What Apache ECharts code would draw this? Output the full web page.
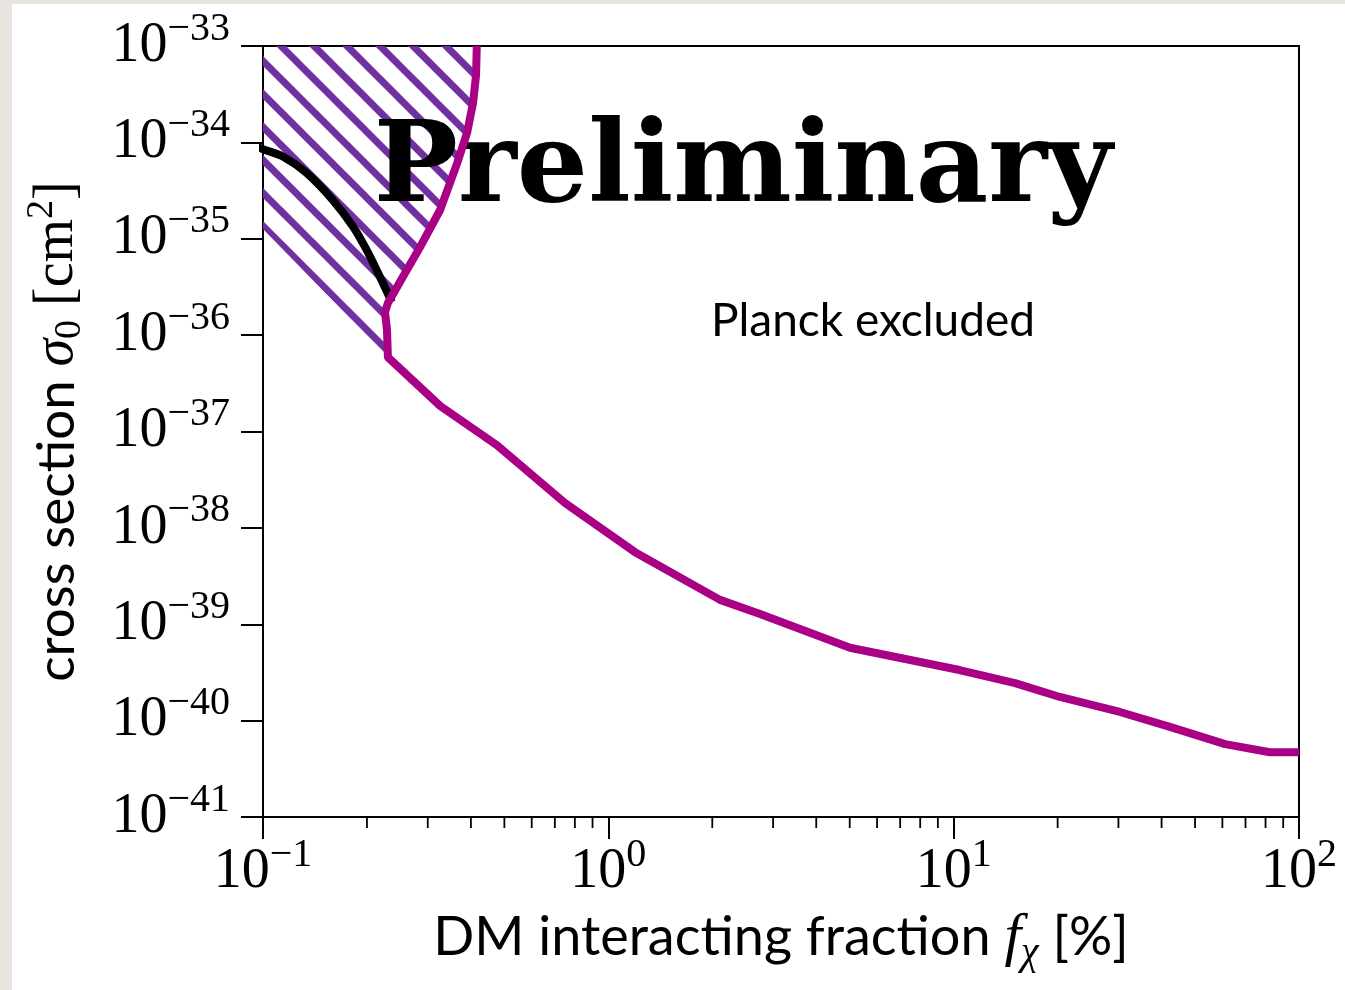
<!DOCTYPE html>
<html>
<head>
<meta charset="utf-8">
<script src="https://cdn.jsdelivr.net/npm/echarts@6/dist/echarts.min.js"></script>
<style>
  html, body { margin: 0; padding: 0; background: #ffffff; }
  #chart { width: 1345px; height: 990px; }
</style>
</head>
<body>
<div id="chart"></div>
<script>
// Planck exclusion boundary: interacting DM fraction [%] and cross section [cm^2]
const planckFraction = [0.416, 0.414, 0.406, 0.390, 0.365, 0.326, 0.285, 0.254, 0.230, 0.2256, 0.2286, 0.230,
  0.326, 0.476, 0.749, 1.195, 2.106, 2.75, 5.01, 10.4, 15.06, 20.3, 30.3, 42.3, 61.1, 82.4, 100];
const planckSigma = [1e-33, 5.0e-34, 2.6e-34, 1.26e-34, 6.1e-35, 2.0e-35, 8.2e-36, 4.0e-36, 2.15e-36, 1.74e-36, 1.13e-36, 5.9e-37,
  1.84e-37, 7.2e-38, 1.81e-38, 5.6e-39, 1.79e-39, 1.28e-39, 5.7e-40, 3.35e-40, 2.45e-40, 1.76e-40, 1.23e-40, 8.6e-41, 5.7e-41, 4.7e-41, 4.7e-41];

// Black bounding curve at small fractions
const curveFraction = [0.0965, 0.1, 0.1145, 0.1338, 0.1595, 0.1824, 0.1997, 0.2182, 0.236];
const curveSigma = [9.0e-35, 8.5e-35, 7.1e-35, 4.8e-35, 2.5e-35, 1.33e-35, 7.6e-36, 4.0e-36, 2.2e-36];

// Hatched region outline
const hatchFraction = [0.1, 0.416, 0.414, 0.406, 0.390, 0.365, 0.326, 0.285, 0.254, 0.230, 0.2256, 0.2286, 0.230, 0.1];
const hatchSigma = [1e-33, 1e-33, 5.0e-34, 2.6e-34, 1.26e-34, 6.1e-35, 2.0e-35, 8.2e-36, 4.0e-36, 2.15e-36, 1.74e-36, 1.13e-36, 5.9e-37, 1.26e-35];

// Axis ranges (decades) and minor tick positions on the fraction axis
const xRange = [0.1, 100];
const yExponentRange = [-41, -33];
const xMinorTicks = [0.2, 0.3, 0.4, 0.5, 0.6, 0.7, 0.8, 0.9, 2, 3, 4, 5, 6, 7, 8, 9, 20, 30, 40, 50, 60, 70, 80, 90];

const MINUS = '\u2212';
const toPairs = (xs, ys) => xs.map((x, i) => [x, Math.log10(ys[i])]);
const powLabel = (e) => '{b|10}{s|' + (e < 0 ? MINUS + (-e) : String(e)) + '}';

const serif = '"Liberation Serif", "DejaVu Serif", serif';
const sans = 'Lato, "Open Sans", sans-serif';

const tickRich = {
  b: { fontFamily: serif, fontSize: 56, color: '#000' },
  s: { fontFamily: serif, fontSize: 40, color: '#000', padding: [0, 0, 34, 0] }
};

// Diagonal hatch tile
function hatchTile() {
  const s = 33;
  const c = document.createElement('canvas');
  c.width = s; c.height = s;
  const g = c.getContext('2d');
  g.strokeStyle = '#7030a0';
  g.lineWidth = 7;
  [-37, -4, 29].forEach((off) => {
    g.beginPath();
    g.moveTo(-10, off - 10);
    g.lineTo(s + 10, off + s + 10);
    g.stroke();
  });
  return c;
}
const tile = hatchTile();

const chart = echarts.init(document.getElementById('chart'), null, { renderer: 'canvas' });

chart.setOption({
  backgroundColor: '#ffffff',
  animation: false,
  grid: {
    left: 263, right: 46, top: 46, bottom: 173,
    show: true, borderColor: '#000', borderWidth: 2, backgroundColor: 'transparent'
  },
  xAxis: {
    type: 'log',
    logBase: 10,
    min: xRange[0],
    max: xRange[1],
    axisLine: { show: true, lineStyle: { color: '#000', width: 2 } },
    axisTick: { show: true, length: 22, lineStyle: { color: '#000', width: 2 } },
    splitLine: { show: false },
    axisLabel: {
      margin: 18,
      formatter: (v) => powLabel(Math.round(Math.log10(v))),
      rich: tickRich
    },
    name: '{t|DM interacting fraction }{m|f}{sub|\u03c7}{t| [%]}',
    nameLocation: 'middle',
    nameGap: 86,
    nameTextStyle: {
      rich: {
        t: { fontFamily: sans, fontSize: 54, color: '#000' },
        m: { fontFamily: serif, fontStyle: 'italic', fontSize: 60, color: '#000' },
        sub: { fontFamily: serif, fontStyle: 'italic', fontSize: 40, color: '#000', padding: [30, 0, 0, 0] }
      }
    }
  },
  yAxis: {
    type: 'value',
    min: yExponentRange[0],
    max: yExponentRange[1],
    interval: 1,
    axisLine: { show: true, lineStyle: { color: '#000', width: 2 } },
    axisTick: { show: true, length: 22, lineStyle: { color: '#000', width: 2 } },
    splitLine: { show: false },
    axisLabel: {
      margin: 33,
      formatter: (v) => powLabel(Math.round(v)),
      rich: tickRich
    },
    name: '{t|cross section }{m|\u03c3}{sub|0}{r| [cm}{sup|2}{r|]}',
    nameLocation: 'middle',
    nameRotate: 90,
    nameGap: 172,
    nameTextStyle: {
      rich: {
        t: { fontFamily: sans, fontSize: 53, color: '#000' },
        m: { fontFamily: serif, fontStyle: 'italic', fontSize: 56, color: '#000' },
        sub: { fontFamily: serif, fontSize: 38, color: '#000', padding: [26, 0, 0, 0] },
        r: { fontFamily: serif, fontSize: 56, color: '#000' },
        sup: { fontFamily: serif, fontSize: 38, color: '#000', padding: [0, 0, 30, 0] }
      }
    }
  },
  graphic: [
    { type: 'rect', silent: true, z: 100, shape: { x: 0, y: 0, width: 12, height: 990 }, style: { fill: '#e8e4dd' } },
    { type: 'rect', silent: true, z: 100, shape: { x: 0, y: 0, width: 1345, height: 4 }, style: { fill: '#e8e4dd' } },
    {
      type: 'text', silent: true, z: 5,
      style: {
        text: 'Preliminary', x: 743, y: 172, align: 'center', verticalAlign: 'middle',
        font: 'bold 112px "DejaVu Serif", serif', fill: '#000'
      }
    },
    {
      type: 'text', silent: true, z: 5,
      style: {
        text: 'Planck excluded', x: 873, y: 321, align: 'center', verticalAlign: 'middle',
        font: '46px Lato, "Open Sans", sans-serif', fill: '#000'
      }
    }
  ],
  series: [
    {
      type: 'custom',
      silent: true,
      z: 1,
      data: [[hatchFraction[0], Math.log10(hatchSigma[0])]],
      renderItem: (params, api) => ({
        type: 'polygon',
        shape: { points: hatchFraction.map((f, i) => api.coord([f, Math.log10(hatchSigma[i])])) },
        style: { fill: { image: tile, repeat: 'repeat' }, stroke: null }
      })
    },
    {
      type: 'custom',
      silent: true,
      z: 3,
      data: xMinorTicks.map((v) => [v, yExponentRange[0]]),
      renderItem: (params, api) => {
        const p = api.coord([api.value(0), api.value(1)]);
        return {
          type: 'line',
          shape: { x1: p[0], y1: p[1], x2: p[0], y2: p[1] + 11 },
          style: { stroke: '#000', lineWidth: 1.8 }
        };
      }
    },
    {
      type: 'line',
      data: toPairs(curveFraction, curveSigma),
      smooth: 0.3,
      showSymbol: false,
      clip: false,
      silent: true,
      z: 4,
      lineStyle: { color: '#000', width: 8 }
    },
    {
      type: 'line',
      data: toPairs(planckFraction, planckSigma),
      showSymbol: false,
      clip: false,
      silent: true,
      z: 6,
      lineStyle: { color: '#aa0085', width: 8, join: 'round' }
    }
  ]
});
</script>
</body>
</html>
